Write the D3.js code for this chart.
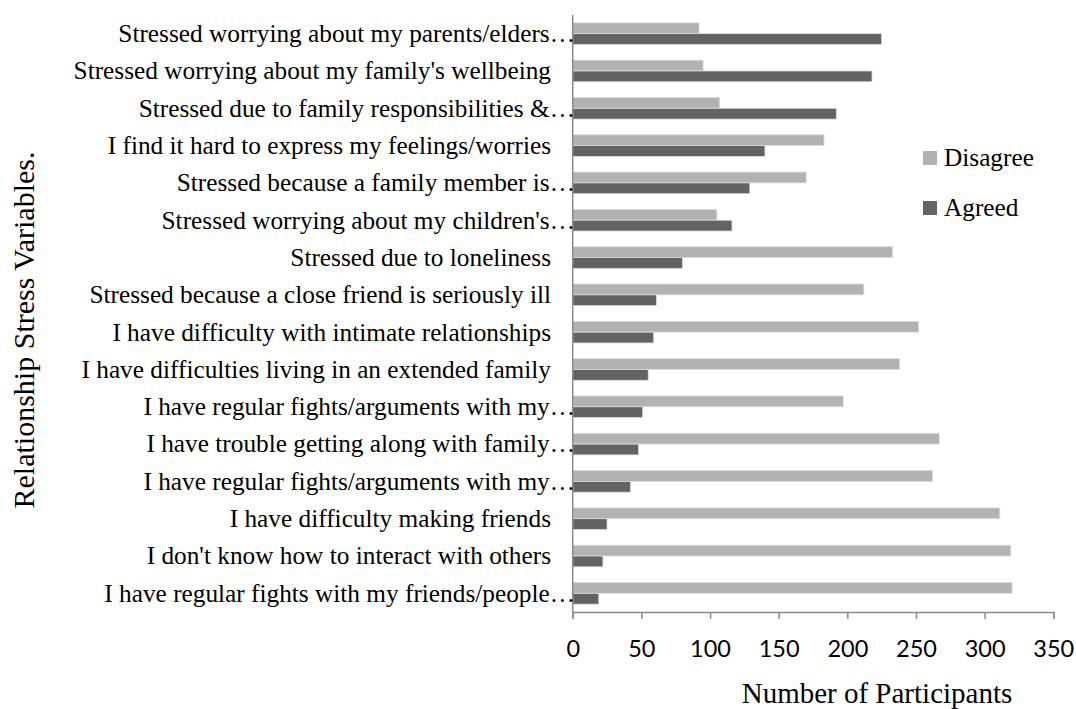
<!DOCTYPE html>
<html>
<head>
<meta charset="utf-8">
<script src="https://cdn.jsdelivr.net/npm/d3@7"></script>
<style>
  html, body { margin: 0; padding: 0; background: #fff; }
  svg { display: block; }
</style>
</head>
<body>
<svg id="chart" width="1076" height="709"></svg>
<script>
// ---- Data ----
const categories = [
  "Stressed worrying about my parents/elders…",
  "Stressed worrying about my family's wellbeing",
  "Stressed due to family responsibilities &…",
  "I find it hard to express my feelings/worries",
  "Stressed because a family member is…",
  "Stressed worrying about my children's…",
  "Stressed due to loneliness",
  "Stressed because a close friend is seriously ill",
  "I have difficulty with intimate relationships",
  "I have difficulties living in an extended family",
  "I have regular fights/arguments with my…",
  "I have trouble getting along with family…",
  "I have regular fights/arguments with my…",
  "I have difficulty making friends",
  "I don't know how to interact with others",
  "I have regular fights with my friends/people…"
];
const disagree = [92, 95, 107, 183, 170, 105, 233, 212, 252, 238, 197, 267, 262, 311, 319, 320];
const agreed   = [225, 218, 192, 140, 129, 116, 80, 61, 59, 55, 51, 48, 42, 25, 22, 19];
const seriesNames = ["Disagree", "Agreed"];
const seriesColors = ["#b2b2b2", "#636363"];
const xTicks = [0, 50, 100, 150, 200, 250, 300, 350];
const xTitle = "Number of Participants";
const yTitle = "Relationship Stress Variables.";

// ---- Layout ----
const svg = d3.select("#chart");
const x = d3.scaleLinear().domain([0, 350]).range([572.7, 1053.3]);
const idx = categories.map((c, i) => i);
const y = d3.scaleBand().domain(idx).range([15, 612]).paddingInner(0.42).paddingOuter(0.21);
const sub = d3.scaleBand().domain(seriesNames).range([0, y.bandwidth()]);

const rows = idx.map(i => ({i, label: categories[i], values: [disagree[i], agreed[i]]}));

// Bars
const g = svg.append("g");
rows.forEach(r => {
  seriesNames.forEach((s, k) => {
    g.append("rect")
      .attr("x", x(0))
      .attr("y", y(r.i) + sub(s))
      .attr("width", x(r.values[k]) - x(0))
      .attr("height", sub.bandwidth())
      .attr("fill", seriesColors[k])
      .attr("stroke", "#dedede")
      .attr("stroke-width", 0.8);
  });
});

// Y axis line
svg.append("line")
  .attr("x1", x(0)).attr("x2", x(0))
  .attr("y1", 15).attr("y2", 612)
  .attr("stroke", "#8a8a8a").attr("stroke-width", 1.5);

// Category labels
svg.append("g").selectAll("text").data(rows).join("text")
  .attr("x", d => d.label.endsWith("…") ? 575 : 551)
  .attr("y", d => y(d.i) + y.bandwidth() / 2)
  .attr("dy", "0.33em")
  .attr("text-anchor", "end")
  .attr("font-family", "'Liberation Serif', 'Times New Roman', serif")
  .attr("font-size", 25.3)
  .attr("fill", "#000")
  .text(d => d.label);

// X axis
const xAxis = d3.axisBottom(x).tickValues(xTicks).tickSize(7).tickPadding(21).tickFormat(d3.format("d"));
const xg = svg.append("g").attr("transform", "translate(0,612)").call(xAxis);
xg.select(".domain").attr("stroke", "#8a8a8a").attr("stroke-width", 1.5);
xg.selectAll(".tick line").attr("stroke", "#8a8a8a").attr("stroke-width", 1.5);
xg.selectAll(".tick text")
  .attr("font-family", "Lato, 'Open Sans', sans-serif")
  .attr("font-size", 23.5)
  .attr("fill", "#000");

// Axis titles
svg.append("text")
  .attr("x", 877).attr("y", 693).attr("dy", "0.33em")
  .attr("text-anchor", "middle")
  .attr("font-family", "'Liberation Serif', 'Times New Roman', serif")
  .attr("font-size", 29)
  .text(xTitle);

svg.append("text")
  .attr("transform", "translate(24,330) rotate(-90)")
  .attr("dy", "0.33em")
  .attr("text-anchor", "middle")
  .attr("font-family", "'Liberation Serif', 'Times New Roman', serif")
  .attr("font-size", 30)
  .text(yTitle);

// Legend
const legendY = [158, 208];
seriesNames.forEach((s, k) => {
  svg.append("rect")
    .attr("x", 923).attr("y", legendY[k] - 7)
    .attr("width", 14).attr("height", 14)
    .attr("fill", seriesColors[k]);
  svg.append("text")
    .attr("x", 944).attr("y", legendY[k]).attr("dy", "0.33em")
    .attr("font-family", "'Liberation Serif', 'Times New Roman', serif")
    .attr("font-size", 25.3)
    .text(s);
});
</script>
</body>
</html>
